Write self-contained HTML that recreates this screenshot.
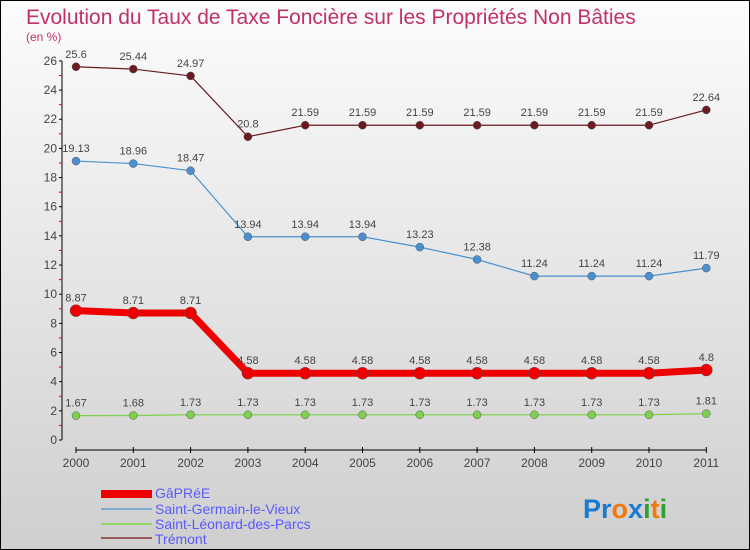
<!DOCTYPE html>
<html><head><meta charset="utf-8"><style>
body{margin:0}
#c{width:748px;height:548px;border:1px solid #000;background:linear-gradient(#fcfcfc,#cfcfcf);position:relative;font-family:"Liberation Sans",sans-serif}
</style></head><body>
<div id="c">
<svg id="s" width="748" height="548" style="position:absolute;left:0;top:0">
<text x="25" y="23" font-size="21" fill="#c0306a">Evolution du Taux de Taxe Foncière sur les Propriétés Non Bâties</text>
<text x="25" y="40" font-size="12" fill="#c0306a">(en %)</text>
<g id="ax"></g><g id="marks"></g>
<g font-size="14" fill="#5a5aff">
<rect x="100" y="489" width="51" height="8" fill="#e00"/>
<text x="154" y="497">GâPRéE</text>
<line x1="100" y1="508" x2="151" y2="508" stroke="#7aaed6" stroke-width="2"/>
<text x="154" y="513">Saint-Germain-le-Vieux</text>
<line x1="100" y1="523" x2="151" y2="523" stroke="#90d86a" stroke-width="2"/>
<text x="154" y="528">Saint-Léonard-des-Parcs</text>
<line x1="100" y1="537" x2="151" y2="537" stroke="#9a5a5a" stroke-width="2"/>
<text x="154" y="543">Trémont</text>
</g>
<text x="582" y="517" font-size="27" font-weight="bold"><tspan fill="#1a7ad0">Pr</tspan><tspan fill="#f07a10">o</tspan><tspan fill="#1a7ad0">x</tspan><tspan fill="#30a030">i</tspan><tspan fill="#f07a10">t</tspan><tspan fill="#30a030">i</tspan></text>
</svg></div>
<script>
const years=["2000","2001","2002","2003","2004","2005","2006","2007","2008","2009","2010","2011"];
const yTicks=[0,2,4,6,8,10,12,14,16,18,20,22,24,26];
const gapree=[8.87,8.71,8.71,4.58,4.58,4.58,4.58,4.58,4.58,4.58,4.58,4.8];
const stGermain=[19.13,18.96,18.47,13.94,13.94,13.94,13.23,12.38,11.24,11.24,11.24,11.79];
const stLeonard=[1.67,1.68,1.73,1.73,1.73,1.73,1.73,1.73,1.73,1.73,1.73,1.81];
const tremont=[25.6,25.44,24.97,20.8,21.59,21.59,21.59,21.59,21.59,21.59,21.59,22.64];
const NS="http://www.w3.org/2000/svg";
const X=i=>75+i*57.3, Y=v=>439-v*14.58;
function mk(t,a,p){const e=document.createElementNS(NS,t);for(const k in a)e.setAttribute(k,a[k]);p.appendChild(e);return e;}
const ax=document.getElementById('ax'),mg=document.getElementById('marks');
mk('line',{x1:61,y1:Y(26),x2:61,y2:Y(0),stroke:'#000'},ax);
for(let v=0;v<=26;v++){const t=mk('line',{x1:58,y1:Y(v),x2:61,y2:Y(v),stroke:v%2?'#e00':'#000'},ax);}
yTicks.forEach(v=>{const t=mk('text',{x:56,y:Y(v)+4,'text-anchor':'end','font-size':12,fill:'#444'},ax);t.textContent=v;
});
mk('line',{x1:X(0),y1:449,x2:X(11),y2:449,stroke:'#000'},ax);
years.forEach((y,i)=>{mk('line',{x1:X(i),y1:446,x2:X(i),y2:452,stroke:'#000'},ax);
const t=mk('text',{x:X(i),y:466,'text-anchor':'middle','font-size':12,fill:'#444'},ax);t.textContent=y;
});
function series(d,col,w,r,name){
const g=mk('g',{},mg);
mk('polyline',{points:d.map((v,i)=>X(i)+','+Y(v)).join(' '),fill:'none',stroke:col,'stroke-width':w,'stroke-linejoin':'round'},g);
d.forEach((v,i)=>{const c=mk('circle',{cx:X(i),cy:Y(v),r:r,fill:col,stroke:'#555','stroke-width':0.5},g);

const t=mk('text',{x:X(i),y:Y(v)-9,'text-anchor':'middle','font-size':11,fill:'#444'},g);t.textContent=v;
});}
series(tremont,'#6a1a20',1.2,4,'tremont');
series(stGermain,'#4a90d0',1.2,4,'saint-germain');
series(stLeonard,'#80d050',1.2,4,'saint-leonard');
series(gapree,'#ee0000',7,6,'gapree');
</script></body></html>
